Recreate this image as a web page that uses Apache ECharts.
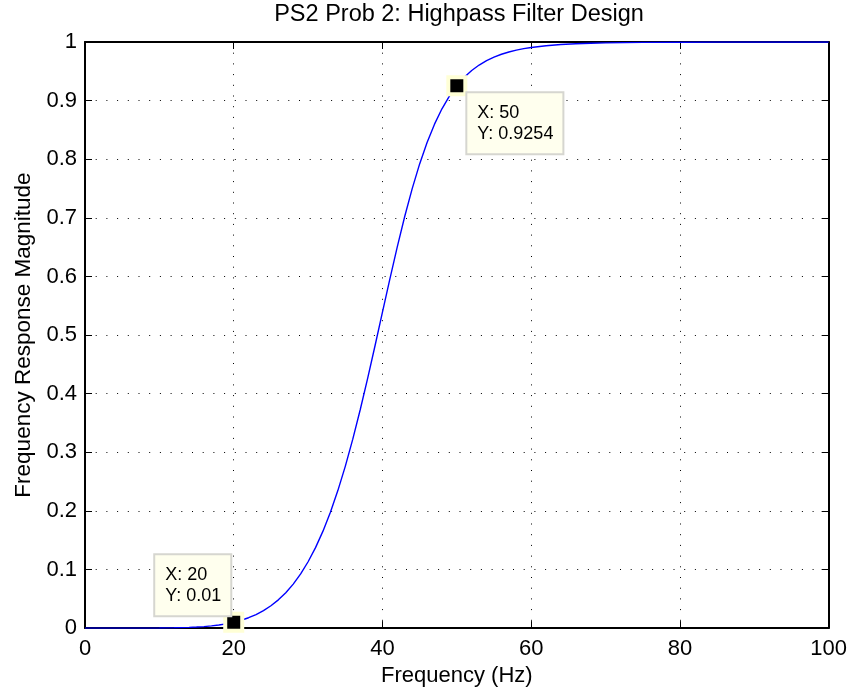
<!DOCTYPE html>
<html>
<head>
<meta charset="utf-8">
<script src="https://cdn.jsdelivr.net/npm/echarts@6/dist/echarts.min.js"></script>
<style>
  html, body { margin: 0; padding: 0; background: #fff; }
  #chart { width: 850px; height: 692px; }
</style>
</head>
<body>
<div id="chart"></div>
<script>
// Highpass filter frequency response (magnitude vs frequency in Hz)
const freqHz = [0, 5, 10, 12, 14, 15, 16, 17, 18, 19, 20, 21, 22, 23, 24, 25, 26, 27, 28, 29,
  30, 31, 32, 33, 34, 35, 36, 37, 38, 39, 40, 41, 42, 43, 44, 45, 46, 47, 48, 49,
  50, 51, 52, 53, 54, 55, 56, 57, 58, 59, 60, 62, 64, 66, 68, 70, 75, 80, 85, 90, 95, 100];
const magnitude = [0, 0.0000, 0.0002, 0.0005, 0.0012, 0.0018, 0.0026, 0.0038, 0.0053, 0.0073,
  0.0100, 0.0134, 0.0177, 0.0231, 0.0298, 0.0381, 0.0482, 0.0604, 0.0751, 0.0925,
  0.1132, 0.1373, 0.1654, 0.1978, 0.2346, 0.2760, 0.3220, 0.3721, 0.4256, 0.4817,
  0.5390, 0.5959, 0.6509, 0.7027, 0.7499, 0.7920, 0.8286, 0.8598, 0.8860, 0.9077,
  0.9254, 0.9398, 0.9514, 0.9607, 0.9683, 0.9743, 0.9791, 0.9830, 0.9862, 0.9887,
  0.9907, 0.9937, 0.9957, 0.9970, 0.9979, 0.9985, 0.9994, 0.9997, 0.9999, 0.9999,
  1.0000, 1.0000];

// Data tips marked on the curve
const tipX = [20, 50];
const tipY = [0.01, 0.9254];

const xTicks = [0, 20, 40, 60, 80, 100];
const yTicks = [0, 0.1, 0.2, 0.3, 0.4, 0.5, 0.6, 0.7, 0.8, 0.9, 1];

const FONT = "'Liberation Sans', Arial, Helvetica, sans-serif";

const curve = freqHz.map((f, i) => [f, magnitude[i]]);

const dotted = { color: '#000', width: 1, type: [1, 9.7] };
const boxLine = { show: true, onZero: false, lineStyle: { color: '#000', width: 2 } };
const tick = { show: true, inside: true, length: 7, lineStyle: { color: '#000', width: 1 } };

// Data tip boxes: offsets from each marker's bounding box
const tipLabels = [
  { position: [-68, -56.5] },
  { position: [21, 18] }
];

const chart = echarts.init(document.getElementById('chart'), null, { renderer: 'canvas' });

chart.setOption({
  animation: false,
  backgroundColor: '#fff',
  title: {
    text: 'PS2 Prob 2: Highpass Filter Design',
    left: 459,
    top: 3,
    padding: 0,
    textAlign: 'center',
    textStyle: { fontFamily: FONT, fontSize: 23.5, fontWeight: 'normal', color: '#000' }
  },
  grid: { left: 85, right: 21, top: 42, bottom: 63, containLabel: false },
  xAxis: [
    {
      type: 'value', position: 'bottom',
      min: xTicks[0], max: xTicks[xTicks.length - 1], interval: 20,
      name: 'Frequency (Hz)', nameLocation: 'middle', nameGap: 23,
      nameTextStyle: { fontFamily: FONT, fontSize: 22, color: '#000' },
      axisLine: boxLine, axisTick: tick,
      axisLabel: { fontFamily: FONT, fontSize: 22, color: '#000', margin: 10 },
      splitLine: { show: true, lineStyle: dotted }
    },
    {
      type: 'value', position: 'top',
      min: xTicks[0], max: xTicks[xTicks.length - 1], interval: 20,
      axisLine: boxLine, axisTick: tick,
      axisLabel: { show: false }, splitLine: { show: false }
    }
  ],
  yAxis: [
    {
      type: 'value', position: 'left',
      min: yTicks[0], max: yTicks[yTicks.length - 1], interval: 0.1,
      name: 'Frequency Response Magnitude', nameLocation: 'middle', nameGap: 48,
      nameTextStyle: { fontFamily: FONT, fontSize: 22.5, color: '#000' },
      axisLine: boxLine, axisTick: tick,
      axisLabel: {
        fontFamily: FONT, fontSize: 22, color: '#000', margin: 8,
        formatter: v => String(Math.round(v * 10) / 10)
      },
      splitLine: { show: true, lineStyle: dotted }
    },
    {
      type: 'value', position: 'right',
      min: yTicks[0], max: yTicks[yTicks.length - 1], interval: 0.1,
      axisLine: boxLine, axisTick: tick,
      axisLabel: { show: false }, splitLine: { show: false }
    }
  ],
  series: [
    {
      type: 'line',
      data: curve,
      xAxisIndex: 0, yAxisIndex: 0,
      showSymbol: false,
      smooth: false,
      lineStyle: { color: '#0000ff', width: 1.4 },
      z: 2
    },
    {
      type: 'scatter',
      xAxisIndex: 0, yAxisIndex: 0,
      symbol: 'rect',
      symbolSize: 17,
      z: 5,
      itemStyle: { color: '#000', borderColor: '#ffffd6', borderWidth: 4, opacity: 1 },
      data: tipX.map((x, i) => ({
        value: [x, tipY[i]],
        label: tipLabels[i]
      })),
      label: {
        show: true,
        align: 'left',
        verticalAlign: 'top',
        formatter: p => 'X: ' + p.value[0] + '\nY: ' + p.value[1],
        fontFamily: FONT, fontSize: 18, lineHeight: 21, color: '#000',
        backgroundColor: '#ffffee',
        borderColor: '#d6d6d0', borderWidth: 2,
        padding: [9, 9, 9, 10]
      },
      emphasis: { disabled: true }
    }
  ]
});
</script>
</body>
</html>
